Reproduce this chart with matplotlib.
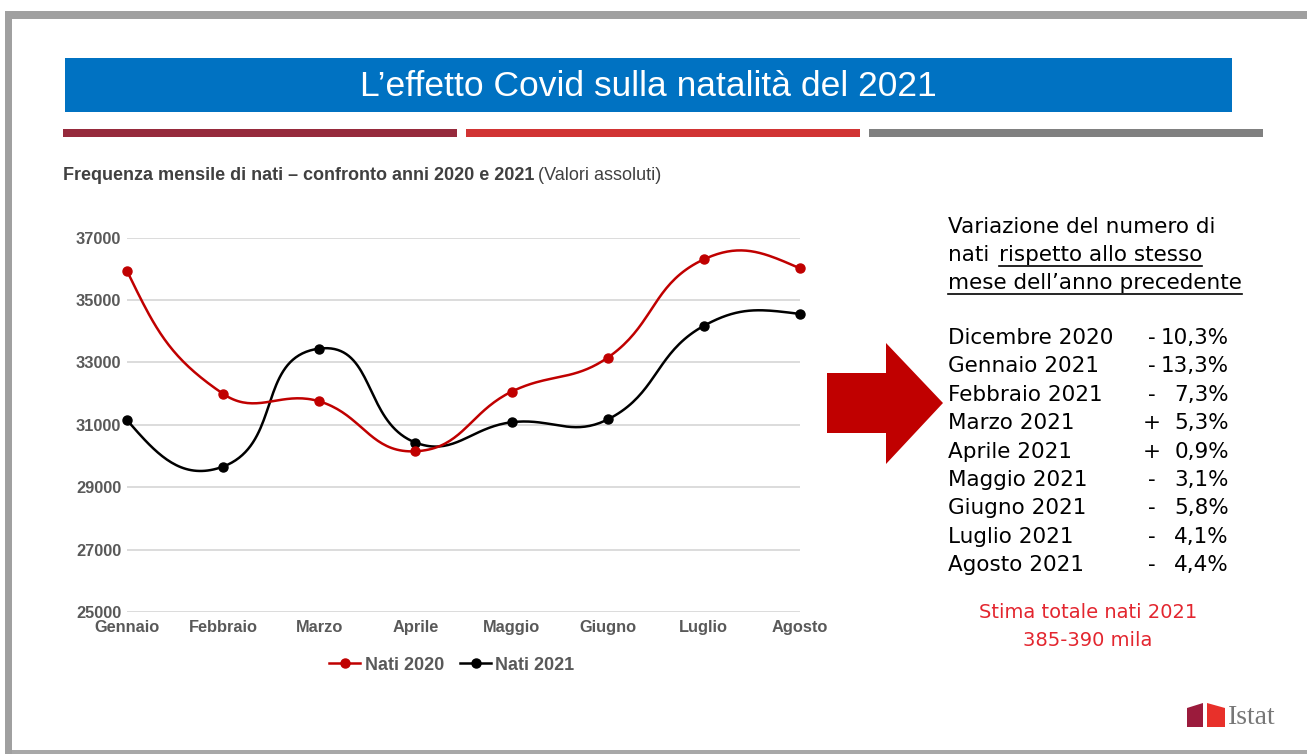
import numpy as np
import matplotlib
matplotlib.use("Agg")
import matplotlib.pyplot as plt
from matplotlib import font_manager
from matplotlib.lines import Line2D
from matplotlib.patches import Rectangle, Polygon

# dati
mesi = ["Gennaio", "Febbraio", "Marzo", "Aprile", "Maggio", "Giugno", "Luglio", "Agosto"]
nati_2020 = [35930, 31990, 31750, 30150, 32060, 33150, 36300, 36010]
nati_2021 = [31150, 29660, 33440, 30430, 31080, 31170, 34170, 34550]
tick_y = [25000, 27000, 29000, 31000, 33000, 35000, 37000]

# tabella delle variazioni a destra
periodi = ["Dicembre 2020", "Gennaio 2021", "Febbraio 2021", "Marzo 2021", "Aprile 2021",
           "Maggio 2021", "Giugno 2021", "Luglio 2021", "Agosto 2021"]
segni = ["-", "-", "-", "+", "+", "-", "-", "-", "-"]
variazioni = ["10,3%", "13,3%", "7,3%", "5,3%", "0,9%", "3,1%", "5,8%", "4,1%", "4,4%"]

W, H = 1307, 754
nomi = {f.name for f in font_manager.fontManager.ttflist}
stretto = "Liberation Sans Narrow" if "Liberation Sans Narrow" in nomi else "Liberation Sans"
grigio_testo = "#595959"


def liscia(px, py, k=0.42, n=40):
    # curva di Bezier morbida (stile foglio di calcolo) in coordinate pixel
    pts = np.column_stack([px, py])
    m = len(pts)
    tang = np.zeros_like(pts)
    for i in range(1, m - 1):
        d = pts[i + 1] - pts[i - 1]
        tang[i] = d / np.hypot(*d)
    curva = []
    for i in range(m - 1):
        p1, p2 = pts[i], pts[i + 1]
        L = np.hypot(*(p2 - p1))
        c1 = p1 + tang[i] * L * k if i > 0 else None
        c2 = p2 - tang[i + 1] * L * k if i + 1 < m - 1 else None
        if c1 is None:
            v = c2 - p1
            c1 = p1 + v / np.hypot(*v) * L * k
        if c2 is None:
            v = c1 - p2
            c2 = p2 + v / np.hypot(*v) * L * k
        t = np.linspace(0, 1, n)[:, None]
        seg = (1 - t) ** 3 * p1 + 3 * (1 - t) ** 2 * t * c1 + 3 * (1 - t) * t ** 2 * c2 + t ** 3 * p2
        curva.append(seg if i == 0 else seg[1:])
    return np.vstack(curva)


fig = plt.figure(figsize=(W / 100, H / 100), dpi=100)
fig.patch.set_facecolor("white")

# sfondo in pixel
bg = fig.add_axes([0, 0, 1, 1])
bg.set_xlim(0, W)
bg.set_ylim(H, 0)
bg.axis("off")

# cornice grigia
bg.add_patch(Rectangle((5, 11), W - 5, 8, color="#A0A0A0", lw=0))
bg.add_patch(Rectangle((5, 11), 7, H - 11, color="#A0A0A0", lw=0))
bg.add_patch(Rectangle((12, 750), W - 12, 4, color="#A8A8A8", lw=0))

# barra del titolo
bg.add_patch(Rectangle((65, 58), 1167, 54, color="#0072C2", lw=0))
bg.text(648, 86, "L\u2019effetto Covid sulla natalità del 2021", color="white",
        fontsize=25.5, family=stretto, ha="center", va="center")

# tre strisce colorate
for x0, col in [(63, "#962A3C"), (466, "#D13434"), (869, "#808080")]:
    bg.add_patch(Rectangle((x0, 129), 394, 8, color=col, lw=0))

# sottotitolo
st = bg.text(63, 176, "Frequenza mensile di nati \u2013 confronto anni 2020 e 2021", color="#404040",
             fontsize=13, family=stretto, fontweight="bold", ha="left", va="center")
fig.canvas.draw()
r = fig.canvas.get_renderer()
bb = st.get_window_extent(r)
x_fine = bg.transData.inverted().transform((bb.x1, 0))[0]
bg.text(x_fine + 4, 176, "(Valori assoluti)", color="#404040",
        fontsize=13, family=stretto, ha="left", va="center")

# grafico
ax = fig.add_axes([127 / W, 1 - 612 / H, 673 / W, 374.5 / H])
ax.set_xlim(0, len(mesi) - 1)
ax.set_ylim(tick_y[0], tick_y[-1])
for s in ax.spines.values():
    s.set_visible(False)
ax.set_yticks(tick_y)
ax.set_yticklabels([str(v) for v in tick_y])
ax.set_xticks(range(len(mesi)))
ax.set_xticklabels(mesi)
ax.tick_params(length=0, labelsize=11.8, labelcolor=grigio_testo)
ax.tick_params(axis="y", pad=4)
ax.tick_params(axis="x", pad=6)
for lab in ax.get_xticklabels() + ax.get_yticklabels():
    lab.set_fontweight("bold")
    lab.set_family("Liberation Sans")
ax.grid(axis="y", color="#D9D9D9", lw=1.3)
ax.set_axisbelow(True)

xs = np.arange(len(mesi))
inv = ax.transData.inverted()
for serie, col in [(nati_2021, "black"), (nati_2020, "#C00000")]:
    pix = ax.transData.transform(np.column_stack([xs, serie]))
    curva = inv.transform(liscia(pix[:, 0], pix[:, 1]))
    ax.plot(curva[:, 0], curva[:, 1], color=col, lw=1.8, clip_on=False, zorder=3)
    ax.plot(xs, serie, "o", color=col, ms=6.5, clip_on=False, zorder=4)

maniglie = [Line2D([], [], color="#C00000", lw=1.8, marker="o", ms=6.5),
            Line2D([], [], color="black", lw=1.8, marker="o", ms=6.5)]
leg = fig.legend(maniglie, ["Nati 2020", "Nati 2021"], loc="center",
                 bbox_to_anchor=(452 / W, 1 - 665 / H), ncol=2, frameon=False,
                 handlelength=1.7, handletextpad=0.25, columnspacing=0.9,
                 prop={"family": "Liberation Sans", "weight": "bold", "size": 13})
for t in leg.get_texts():
    t.set_color(grigio_testo)

# freccia rossa
bg.add_patch(Polygon([(827, 373), (886, 373), (886, 343), (943, 403),
                      (886, 464), (886, 433), (827, 433)], closed=True, color="#C00000", lw=0))

# testo a destra
fs = 15.5
bg.text(948, 227, "Variazione del numero di", fontsize=fs, family="DejaVu Sans", color="black",
        ha="left", va="center")
bg.text(948, 255, "nati", fontsize=fs, family="DejaVu Sans", color="black", ha="left", va="center")
sott = [bg.text(999, 255, "rispetto allo stesso", fontsize=fs, family="DejaVu Sans",
                color="black", ha="left", va="center"),
        bg.text(948, 283, "mese dell\u2019anno precedente", fontsize=fs, family="DejaVu Sans",
                color="black", ha="left", va="center")]
fig.canvas.draw()
r = fig.canvas.get_renderer()
for t, yl in zip(sott, [266, 294]):
    bb = t.get_window_extent(r)
    xa = bg.transData.inverted().transform((bb.x0, 0))[0]
    xb = bg.transData.inverted().transform((bb.x1, 0))[0]
    bg.plot([xa, xb], [yl, yl], color="black", lw=1.2)

for i, (p, s, v) in enumerate(zip(periodi, segni, variazioni)):
    y = 338 + i * 28.4
    bg.text(948, y, p, fontsize=fs, family="DejaVu Sans", color="black", ha="left", va="center")
    bg.text(1152, y, s, fontsize=fs, family="DejaVu Sans", color="black", ha="center", va="center")
    bg.text(1229, y, v, fontsize=fs, family="DejaVu Sans", color="black", ha="right", va="center")

bg.text(1088, 612, "Stima totale nati 2021", fontsize=14, family="DejaVu Sans", color="#E3262F",
        ha="center", va="center")
bg.text(1088, 641, "385-390 mila", fontsize=14, family="DejaVu Sans", color="#E3262F",
        ha="center", va="center")

# logo Istat
bg.add_patch(Polygon([(1187, 708), (1203, 703), (1203, 727), (1187, 727)], closed=True,
                     color="#9B1B3C", lw=0))
bg.add_patch(Polygon([(1207, 703), (1225, 708), (1225, 727), (1207, 727)], closed=True,
                     color="#E8302A", lw=0))
bg.text(1228, 717, "Istat", fontsize=20, family="Liberation Serif", color="#777777",
        ha="left", va="center")

fig.savefig("out.png", dpi=100)
